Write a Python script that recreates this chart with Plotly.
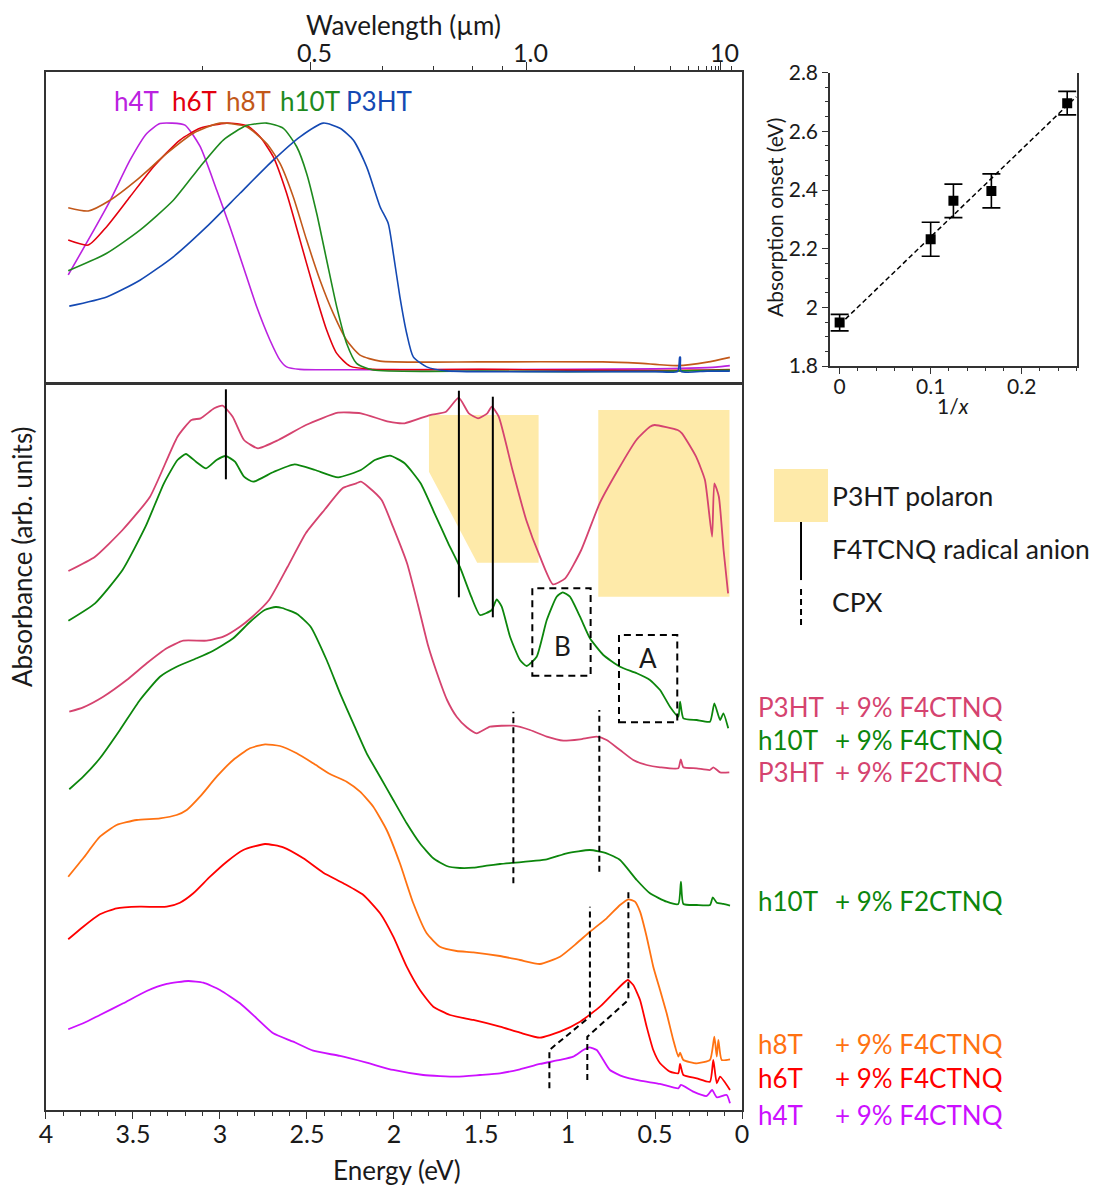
import plotly.graph_objects as go

FONT = "Lato"
INK = "#1a1a1a"

# ---------------- top panel: neat films (normalised absorbance vs energy, eV) ----------------
h4T_E = [3.872, 3.747, 3.632, 3.517, 3.421, 3.345, 3.278, 3.201, 3.115, 3.019, 2.943, 2.866, 2.789, 2.713, 2.655, 2.617, 2.540, 2.0, 1.0, 0.5, 0.3, 0.15, 0.07]
h4T_A = [0.39, 0.543, 0.688, 0.851, 0.958, 0.998, 1.0, 0.992, 0.907, 0.731, 0.584, 0.423, 0.262, 0.129, 0.048, 0.021, 0.011, 0.010, 0.011, 0.013, 0.016, 0.020, 0.026]

h6T_E = [3.872, 3.757, 3.651, 3.517, 3.383, 3.230, 3.115, 2.961, 2.847, 2.770, 2.694, 2.617, 2.540, 2.464, 2.387, 2.329, 2.253, 2.121, 1.5, 1.0, 0.5, 0.2, 0.07]
h6T_A = [0.53, 0.51, 0.584, 0.704, 0.824, 0.932, 0.979, 1.0, 0.99, 0.945, 0.865, 0.718, 0.53, 0.343, 0.169, 0.075, 0.024, 0.011, 0.011, 0.008, 0.006, 0.008, 0.010]

h8T_E = [3.872, 3.757, 3.632, 3.479, 3.306, 3.153, 3.000, 2.847, 2.732, 2.655, 2.579, 2.502, 2.425, 2.349, 2.272, 2.195, 2.080, 1.5, 0.8, 0.6, 0.37, 0.2, 0.07]
h8T_A = [0.66, 0.647, 0.69, 0.771, 0.878, 0.959, 1.0, 0.985, 0.918, 0.838, 0.704, 0.53, 0.369, 0.236, 0.128, 0.068, 0.044, 0.041, 0.041, 0.036, 0.026, 0.040, 0.059]

h10T_E = [3.872, 3.651, 3.460, 3.268, 3.115, 2.981, 2.847, 2.732, 2.636, 2.559, 2.502, 2.444, 2.387, 2.329, 2.272, 2.215, 2.119, 1.5, 1.0, 0.5, 0.07]
h10T_A = [0.407, 0.477, 0.57, 0.69, 0.824, 0.932, 0.99, 1.0, 0.979, 0.905, 0.798, 0.637, 0.45, 0.262, 0.115, 0.035, 0.008, 0.004, 0.002, 0.003, 0.008]

P3HT_E = [3.866, 3.651, 3.460, 3.268, 3.076, 2.885, 2.694, 2.540, 2.406, 2.310, 2.234, 2.157, 2.080, 2.033, 2.004, 1.966, 1.927, 1.889, 1.812, 1.697, 1.0, 0.5, 0.37, 0.358, 0.354, 0.35, 0.2, 0.07]
P3HT_A = [0.265, 0.302, 0.369, 0.463, 0.584, 0.718, 0.851, 0.945, 1.0, 0.979, 0.932, 0.824, 0.664, 0.597, 0.477, 0.302, 0.155, 0.061, 0.021, 0.005, 0.002, 0.002, 0.003, 0.06, 0.06, 0.003, 0.004, 0.004]

top_names = ["h4T", "h6T", "h8T", "h10T", "P3HT"]
top_colors = ["#bb22e0", "#e3000e", "#c2581a", "#1e8a1e", "#1449b3"]

# wavelength axis (µm) shown on top
wl_major = [0.5, 1.0, 10]
wl_major_text = ["0.5", "1.0", "10"]
wl_minor = [0.4, 0.6, 0.7, 0.8, 0.9, 2, 3, 4, 5, 6, 7, 8, 9, 20]
HC = 1.23984  # eV·µm

# ---------------- bottom panel: doped films (offset absorbance, arb. units) ----------------
P3HT_F4_E = [3.871, 3.718, 3.560, 3.402, 3.244, 3.164, 3.111, 3.033, 2.985, 2.927, 2.862, 2.782, 2.664, 2.506, 2.322, 2.190, 2.031, 1.939, 1.793, 1.701, 1.628, 1.570, 1.517, 1.464, 1.438, 1.398, 1.319, 1.240, 1.161, 1.087, 1.016, 0.924, 0.818, 0.713, 0.607, 0.529, 0.502, 0.370, 0.345, 0.264, 0.213, 0.172, 0.159, 0.133, 0.106, 0.080]
P3HT_F4_A = [5.39, 5.533, 5.80, 6.133, 6.733, 6.90, 6.917, 7.017, 7.043, 6.933, 6.70, 6.617, 6.70, 6.85, 6.973, 6.967, 6.883, 6.867, 6.95, 6.983, 7.123, 6.967, 6.917, 6.967, 7.033, 6.933, 6.40, 5.90, 5.533, 5.257, 5.317, 5.60, 6.067, 6.40, 6.70, 6.833, 6.85, 6.80, 6.767, 6.533, 6.30, 5.733, 6.267, 6.133, 5.60, 5.167]

h10T_F4_E = [3.871, 3.718, 3.560, 3.428, 3.322, 3.244, 3.196, 3.138, 3.080, 3.020, 2.967, 2.914, 2.862, 2.809, 2.690, 2.571, 2.453, 2.321, 2.190, 2.110, 2.023, 1.939, 1.847, 1.767, 1.688, 1.622, 1.556, 1.506, 1.438, 1.410, 1.381, 1.333, 1.276, 1.237, 1.180, 1.122, 1.065, 1.030, 0.989, 0.931, 0.874, 0.797, 0.701, 0.605, 0.529, 0.471, 0.414, 0.366, 0.356, 0.337, 0.260, 0.184, 0.159, 0.126, 0.107, 0.079]
h10T_F4_A = [4.893, 5.067, 5.40, 5.833, 6.267, 6.50, 6.56, 6.483, 6.417, 6.50, 6.54, 6.483, 6.333, 6.283, 6.383, 6.457, 6.40, 6.327, 6.40, 6.50, 6.543, 6.467, 6.267, 5.967, 5.667, 5.433, 5.133, 4.95, 5.00, 5.107, 5.033, 4.733, 4.50, 4.44, 4.533, 4.90, 5.133, 5.177, 5.133, 4.933, 4.717, 4.55, 4.433, 4.367, 4.30, 4.20, 4.033, 3.933, 4.083, 3.917, 3.90, 3.883, 4.067, 3.90, 3.967, 3.817]

P3HT_F2_E = [3.866, 3.786, 3.671, 3.536, 3.421, 3.306, 3.211, 3.076, 2.981, 2.885, 2.822, 2.718, 2.611, 2.506, 2.400, 2.294, 2.216, 2.190, 2.149, 2.071, 2.006, 1.925, 1.862, 1.805, 1.753, 1.695, 1.640, 1.582, 1.525, 1.448, 1.314, 1.218, 1.122, 1.027, 0.931, 0.835, 0.778, 0.701, 0.625, 0.548, 0.471, 0.366, 0.352, 0.337, 0.260, 0.184, 0.165, 0.126, 0.073]
P3HT_F2_A = [3.983, 4.027, 4.133, 4.30, 4.467, 4.617, 4.693, 4.693, 4.733, 4.833, 4.92, 5.10, 5.433, 5.77, 6.00, 6.22, 6.267, 6.283, 6.233, 6.10, 5.833, 5.467, 5.05, 4.65, 4.37, 4.10, 3.933, 3.827, 3.767, 3.833, 3.843, 3.80, 3.733, 3.693, 3.707, 3.733, 3.70, 3.60, 3.50, 3.45, 3.427, 3.417, 3.507, 3.427, 3.417, 3.40, 3.427, 3.377, 3.377]

h10T_F2_E = [3.866, 3.786, 3.690, 3.575, 3.460, 3.345, 3.249, 3.134, 3.039, 2.924, 2.828, 2.743, 2.680, 2.643, 2.557, 2.479, 2.387, 2.310, 2.234, 2.157, 2.080, 2.004, 1.927, 1.851, 1.774, 1.697, 1.621, 1.544, 1.467, 1.391, 1.122, 1.007, 0.874, 0.778, 0.701, 0.605, 0.529, 0.433, 0.366, 0.351, 0.337, 0.260, 0.184, 0.168, 0.145, 0.107, 0.069]
h10T_F2_A = [3.207, 3.333, 3.517, 3.80, 4.10, 4.333, 4.433, 4.517, 4.593, 4.717, 4.88, 5.00, 5.03, 5.02, 4.96, 4.833, 4.50, 4.167, 3.867, 3.567, 3.333, 3.10, 2.867, 2.667, 2.517, 2.44, 2.42, 2.423, 2.443, 2.46, 2.507, 2.567, 2.60, 2.567, 2.50, 2.30, 2.167, 2.083, 2.06, 2.283, 2.06, 2.05, 2.05, 2.127, 2.073, 2.06, 2.043]

h8T_F4_E = [3.872, 3.786, 3.690, 3.594, 3.479, 3.345, 3.249, 3.191, 3.115, 3.019, 2.924, 2.828, 2.741, 2.655, 2.559, 2.464, 2.368, 2.272, 2.195, 2.119, 2.042, 1.966, 1.889, 1.812, 1.736, 1.640, 1.544, 1.391, 1.276, 1.161, 1.046, 0.950, 0.874, 0.778, 0.701, 0.653, 0.615, 0.586, 0.548, 0.510, 0.471, 0.433, 0.395, 0.366, 0.356, 0.337, 0.260, 0.184, 0.159, 0.145, 0.136, 0.117, 0.069]
h8T_F4_A = [2.333, 2.517, 2.733, 2.85, 2.90, 2.917, 2.95, 3.00, 3.133, 3.333, 3.50, 3.617, 3.657, 3.64, 3.567, 3.467, 3.36, 3.283, 3.183, 3.033, 2.80, 2.467, 2.067, 1.767, 1.633, 1.59, 1.577, 1.54, 1.50, 1.46, 1.533, 1.667, 1.783, 1.917, 2.05, 2.107, 2.083, 1.983, 1.733, 1.433, 1.20, 0.967, 0.70, 0.533, 0.573, 0.50, 0.467, 0.50, 0.733, 0.533, 0.70, 0.50, 0.507]

h6T_F4_E = [3.872, 3.786, 3.690, 3.594, 3.460, 3.306, 3.230, 3.153, 3.057, 2.961, 2.866, 2.741, 2.636, 2.521, 2.406, 2.291, 2.176, 2.080, 2.004, 1.927, 1.851, 1.774, 1.678, 1.544, 1.391, 1.276, 1.161, 1.046, 0.931, 0.816, 0.740, 0.657, 0.625, 0.586, 0.548, 0.510, 0.471, 0.414, 0.366, 0.356, 0.337, 0.260, 0.184, 0.165, 0.145, 0.126, 0.069]
h6T_F4_A = [1.707, 1.833, 1.957, 2.017, 2.033, 2.033, 2.073, 2.167, 2.333, 2.483, 2.60, 2.66, 2.627, 2.517, 2.373, 2.267, 2.15, 1.967, 1.733, 1.433, 1.20, 1.033, 0.95, 0.90, 0.833, 0.773, 0.723, 0.783, 0.883, 1.033, 1.167, 1.30, 1.25, 1.10, 0.833, 0.60, 0.467, 0.383, 0.367, 0.46, 0.35, 0.317, 0.283, 0.50, 0.267, 0.333, 0.20]

h4T_F4_E = [3.872, 3.786, 3.690, 3.556, 3.421, 3.306, 3.182, 3.096, 3.000, 2.885, 2.789, 2.694, 2.579, 2.464, 2.310, 2.157, 2.004, 1.832, 1.640, 1.506, 1.391, 1.276, 1.161, 1.046, 0.970, 0.912, 0.878, 0.835, 0.797, 0.759, 0.682, 0.586, 0.471, 0.366, 0.351, 0.280, 0.203, 0.172, 0.145, 0.088, 0.069]
h4T_F4_A = [0.807, 0.867, 0.95, 1.067, 1.19, 1.26, 1.29, 1.273, 1.20, 1.067, 0.917, 0.767, 0.683, 0.593, 0.54, 0.473, 0.40, 0.35, 0.333, 0.35, 0.367, 0.407, 0.46, 0.50, 0.533, 0.60, 0.627, 0.60, 0.50, 0.40, 0.333, 0.293, 0.26, 0.217, 0.25, 0.183, 0.14, 0.20, 0.127, 0.15, 0.067]

PINK, GREEN, ORANGE, RED, MAGENTA = "#d5436f", "#0c860c", "#ff7212", "#ff0000", "#cc10ff"

# polaron bands, radical-anion markers, CPX markers
polaron1_E = [1.799, 1.169, 1.169, 1.522, 1.799]
polaron1_A = [6.95, 6.95, 5.473, 5.473, 6.383]
polaron2_E = [0.826, 0.072]
polaron2_A = [5.133, 7.00]
anion_E = [2.966, 1.627, 1.432]
anion_lo = [6.307, 5.127, 4.927]
anion_hi = [7.207, 7.193, 7.133]
cpx_vert_E = [1.314, 0.820]
cpx_vert_lo = [2.267, 2.383]
cpx_vert_hi = [3.983, 4.00]
cpx_pathA_E = [1.107, 1.107, 0.874, 0.874]
cpx_pathA_A = [0.217, 0.60, 0.933, 2.033]
cpx_pathB_E = [0.889, 0.889, 0.653, 0.653]
cpx_pathB_A = [0.30, 0.733, 1.10, 2.183]
boxB_E, boxB_A = [1.205, 0.870], [4.343, 5.217]
boxA_E, boxA_A = [0.707, 0.372], [3.877, 4.75]

# ---------------- inset: absorption onset vs 1/x ----------------
inv_x = [0.0, 0.1, 0.125, 0.1667, 0.25]
onset = [1.948, 2.232, 2.363, 2.397, 2.696]
onset_err = [0.028, 0.058, 0.057, 0.058, 0.040]
fit_x = [0.0, 0.26]
fit_y = [1.941, 2.718]

fig = go.Figure()

for E, A, c in zip([h4T_E, h6T_E, h8T_E, h10T_E, P3HT_E],
                   [h4T_A, h6T_A, h8T_A, h10T_A, P3HT_A], top_colors):
    fig.add_trace(go.Scatter(x=E, y=A, mode="lines", line=dict(color=c, width=1.6, shape="spline", smoothing=0.6),
                             xaxis="x", yaxis="y", showlegend=False))

bottom = [
    (P3HT_F4_E, P3HT_F4_A, PINK), (h10T_F4_E, h10T_F4_A, GREEN), (P3HT_F2_E, P3HT_F2_A, PINK),
    (h10T_F2_E, h10T_F2_A, GREEN), (h8T_F4_E, h8T_F4_A, ORANGE), (h6T_F4_E, h6T_F4_A, RED),
    (h4T_F4_E, h4T_F4_A, MAGENTA)]
for E, A, c in bottom:
    fig.add_trace(go.Scatter(x=E, y=A, mode="lines", line=dict(color=c, width=1.8, shape="spline", smoothing=0.5),
                             xaxis="x2", yaxis="y2", showlegend=False))

fig.add_trace(go.Scatter(x=fit_x, y=fit_y, mode="lines", line=dict(color="black", width=1.5, dash="5px,3px"),
                         xaxis="x3", yaxis="y3", showlegend=False))
fig.add_trace(go.Scatter(x=inv_x, y=onset, mode="markers",
                         marker=dict(symbol="square", size=10, color="black"),
                         error_y=dict(type="data", array=onset_err, color="black", thickness=1.6, width=9),
                         xaxis="x3", yaxis="y3", showlegend=False))

shapes = []
shapes.append(dict(type="path", xref="x2", yref="y2", layer="below", line=dict(width=0), fillcolor="#feeaa9",
                   path="M " + " L ".join(f"{e},{a}" for e, a in zip(polaron1_E, polaron1_A)) + " Z"))
shapes.append(dict(type="rect", xref="x2", yref="y2", layer="below", line=dict(width=0), fillcolor="#feeaa9",
                   x0=polaron2_E[0], x1=polaron2_E[1], y0=polaron2_A[0], y1=polaron2_A[1]))
for e, lo, hi in zip(anion_E, anion_lo, anion_hi):
    shapes.append(dict(type="line", xref="x2", yref="y2", x0=e, x1=e, y0=lo, y1=hi, line=dict(color="black", width=2)))
for e, lo, hi in zip(cpx_vert_E, cpx_vert_lo, cpx_vert_hi):
    shapes.append(dict(type="line", xref="x2", yref="y2", x0=e, x1=e, y0=lo, y1=hi,
                       line=dict(color="black", width=2, dash="6px,4px")))
for PE, PA in [(cpx_pathA_E, cpx_pathA_A), (cpx_pathB_E, cpx_pathB_A)]:
    shapes.append(dict(type="path", xref="x2", yref="y2", line=dict(color="black", width=2, dash="6px,4px"),
                       path="M " + " L ".join(f"{e},{a}" for e, a in zip(PE, PA))))
for BE, BA in [(boxB_E, boxB_A), (boxA_E, boxA_A)]:
    shapes.append(dict(type="rect", xref="x2", yref="y2", x0=BE[0], x1=BE[1], y0=BA[0], y1=BA[1],
                       line=dict(color="black", width=2, dash="7px,5px")))

# legend keys on the right (paper coordinates)
shapes.append(dict(type="rect", xref="paper", yref="paper", x0=0.7056, x1=0.7548, y0=0.5595, y1=0.6042,
                   line=dict(width=0), fillcolor="#feeaa9"))
shapes.append(dict(type="line", xref="paper", yref="paper", x0=0.7302, x1=0.7302, y0=0.5105, y1=0.5595,
                   line=dict(color="black", width=2)))
shapes.append(dict(type="line", xref="paper", yref="paper", x0=0.7302, x1=0.7302, y0=0.4726, y1=0.5038,
                   line=dict(color="black", width=2, dash="6px,4px")))

ann = []
def txt(x, y, s, size=26, color=INK, xanchor="center", angle=0, xref="paper", yref="paper", xshift=0):
    ann.append(dict(x=x, y=y, xref=xref, yref=yref, text=s, showarrow=False, xanchor=xanchor, yanchor="middle",
                    textangle=angle, xshift=xshift, font=dict(family=FONT, size=size, color=color)))

# top legend
for name, c, xl in zip(top_names, top_colors, [112, 170, 224, 278, 344]):
    txt(xl / 1097, 1 - 101 / 1185, name, size=26, color=c, xanchor="left")

# wavelength tick labels on the top axis
for w, t in zip(wl_major, wl_major_text):
    txt(HC / w, 1 - 52 / 1185, t, size=25, xref="x", xshift=4)

txt(403 / 1097, 1 - 25 / 1185, "Wavelength (µm)", size=26)
txt(397 / 1097, 1 - 1170 / 1185, "Energy (eV)", size=26)
txt(22 / 1097, 1 - 557 / 1185, "Absorbance (arb. units)", size=26, angle=-90)
txt(774 / 1097, 1 - 218 / 1185, "Absorption onset (eV)", size=21, angle=-90)
txt(953 / 1097, 1 - 405 / 1185, "1/<i>x</i>", size=21)

txt(1.034, 4.64, "B", size=26, xref="x2", yref="y2")
txt(0.54, 4.52, "A", size=26, xref="x2", yref="y2")

txt(830 / 1097, 1 - 496 / 1185, "P3HT polaron", size=26.5, xanchor="left")
txt(830 / 1097, 1 - 549 / 1185, "F4TCNQ radical anion", size=26.5, xanchor="left")
txt(830 / 1097, 1 - 602 / 1185, "CPX", size=26.5, xanchor="left")

sample_labels = [("P3HT", "+ 9% F4CTNQ", PINK, 707), ("h10T", "+ 9% F4CTNQ", GREEN, 740),
                 ("P3HT", "+ 9% F2CTNQ", PINK, 772), ("h10T", "+ 9% F2CTNQ", GREEN, 901),
                 ("h8T", "+ 9% F4CTNQ", ORANGE, 1044), ("h6T", "+ 9% F4CTNQ", RED, 1078),
                 ("h4T", "+ 9% F4CTNQ", MAGENTA, 1115)]
for host, dop, c, py in sample_labels:
    txt(756 / 1097, 1 - py / 1185, host, size=26, color=c, xanchor="left")
    txt(833 / 1097, 1 - py / 1185, dop, size=26, color=c, xanchor="left")

axline = dict(showline=True, linecolor="#333333", linewidth=1.5, zeroline=False, showgrid=False, automargin=False)
tickfont = dict(family=FONT, size=25, color=INK)

fig.update_layout(
    width=1097, height=1185, margin=dict(l=0, r=0, t=0, b=0, autoexpand=False),
    paper_bgcolor="white", plot_bgcolor="white",
    xaxis=dict(domain=[0.0419, 0.6764], anchor="y", side="top", range=[4, 0],
               tickmode="array", tickvals=[HC / w for w in wl_major], showticklabels=False,
               ticks="outside", ticklen=8, tickwidth=1.2, tickcolor="#333333",
               minor=dict(tickmode="array", tickvals=[HC / w for w in wl_minor], ticks="outside", ticklen=4,
                          tickwidth=1.2, tickcolor="#333333"),
               mirror=True, **axline),
    yaxis=dict(domain=[0.6776, 0.9392], anchor="x", range=[-0.04, 1.205], showticklabels=False, ticks="",
               mirror=True, **axline),
    xaxis2=dict(domain=[0.0419, 0.6764], anchor="y2", range=[4, 0], tickmode="linear", tick0=0, dtick=0.5,
                ticks="outside", ticklen=7, tickwidth=1.2, tickcolor="#333333", ticklabelstandoff=-6,
                minor=dict(dtick=0.1, ticks="outside", ticklen=4, tickwidth=1.2, tickcolor="#333333"),
                mirror=True, tickfont=tickfont, **axline),
    yaxis2=dict(domain=[0.0633, 0.6751], anchor="x2", range=[0, 7.25], showticklabels=False, ticks="",
                mirror=True, **axline),
    xaxis3=dict(domain=[0.7566, 0.9818], anchor="y3", range=[-0.0106, 0.2608], tickmode="linear", tick0=0,
                dtick=0.1, ticks="outside", ticklen=6, tickwidth=1.2, tickcolor="#333333", ticklabelstandoff=-5,
                minor=dict(dtick=0.02, ticks="outside", ticklen=3, tickwidth=1, tickcolor="#333333"),
                tickfont=dict(family=FONT, size=21, color=INK), **axline),
    yaxis3=dict(domain=[0.6911, 0.9387], anchor="x3", range=[1.8, 2.8], tickmode="linear", tick0=1.8,
                dtick=0.2, ticks="outside", ticklen=6, tickwidth=1.2, tickcolor="#333333",
                minor=dict(dtick=0.05, ticks="outside", ticklen=3, tickwidth=1, tickcolor="#333333"),
                mirror=True, tickfont=dict(family=FONT, size=21, color=INK), **axline),
    shapes=shapes, annotations=ann,
)

fig.write_html("out.html")
